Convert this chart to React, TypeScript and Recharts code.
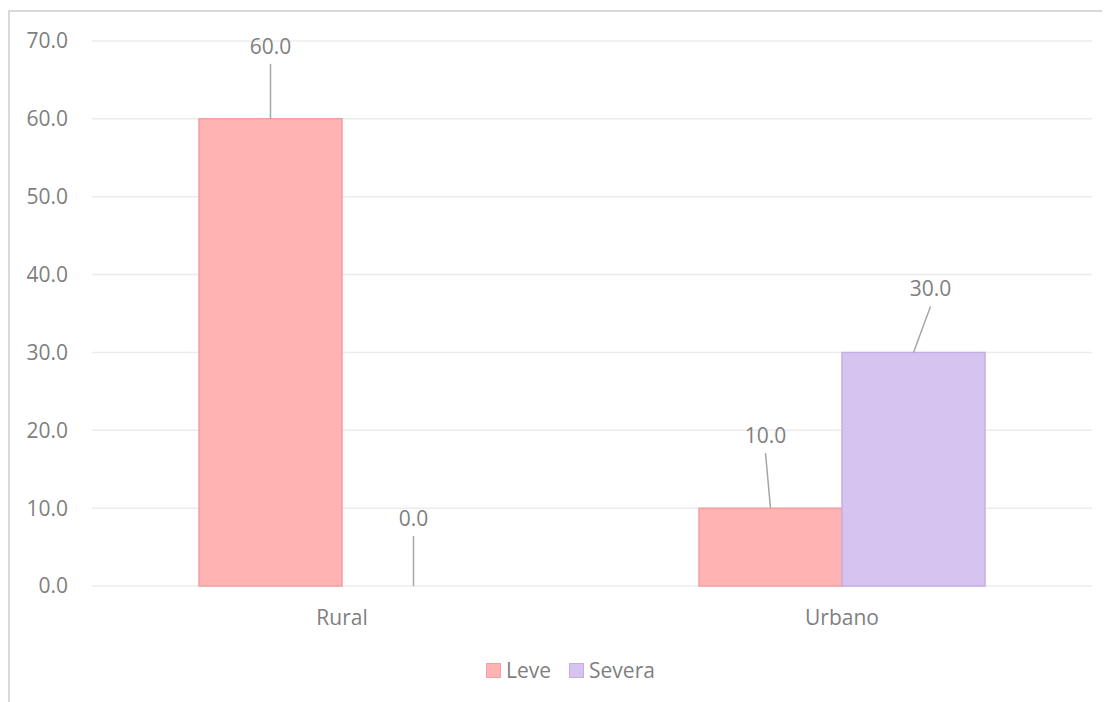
import React from "react";
import { Bar, BarChart, CartesianGrid, LabelList, Rectangle, XAxis, YAxis } from "recharts";

const categories = ["Rural", "Urbano"];
const leve = [60.0, 10.0];
const severa = [0.0, 30.0];
const yTicks = [0, 10, 20, 30, 40, 50, 60, 70];

const data = categories.map((zona, i) => ({ zona, leve: leve[i], severa: severa[i] }));

const FONT = "'Open Sans', 'Segoe UI', sans-serif";
const TEXT = "#7f7f7f";
const FS = 21;
const LEVE_FILL = "#ffb3b3";
const LEVE_STROKE = "#f2a0a0";
const SEVERA_FILL = "#d6c3ef";
const SEVERA_STROKE = "#c5aee3";

// leader-line tweaks per bar (dx at the label end, line length)
const leaders: Record<string, { dx: number; len: number }[]> = {
  leve: [
    { dx: 0, len: 55 },
    { dx: -5, len: 55 },
  ],
  severa: [
    { dx: 0, len: 50 },
    { dx: 17, len: 46 },
  ],
};

const makeLabel = (key: string) => (props: any) => {
  const { x, y, width, height, value, index } = props;
  const cx = Number(x) + Number(width) / 2;
  // zero bars get a 1px min size; anchor their label on the baseline
  const top = Number(value) === 0 ? Number(y) + Number(height) : Number(y);
  const { dx, len } = leaders[key][index];
  const ex = cx + dx;
  const ey = top - len;
  return (
    <g>
      <line x1={cx} y1={top} x2={ex} y2={ey} stroke="#a6a6a6" strokeWidth={1.5} />
      <text x={ex} y={ey - 10} textAnchor="middle" fill={TEXT} fontSize={FS} fontFamily={FONT}>
        {Number(value).toFixed(1)}
      </text>
    </g>
  );
};

// hide the placeholder rect of zero-valued bars
const makeShape = (key: string) => (props: any) =>
  props.payload && props.payload[key] === 0 ? <g /> : <Rectangle {...props} />;

function LegendBox({ fill, stroke, label }: { fill: string; stroke: string; label: string }) {
  return (
    <span style={{ display: "inline-flex", alignItems: "center", marginRight: 18 }}>
      <span
        style={{
          width: 13,
          height: 13,
          background: fill,
          border: `1px solid ${stroke}`,
          marginRight: 5,
        }}
      />
      <span>{label}</span>
    </span>
  );
}

export default function App() {
  return (
    <div
      style={{
        position: "relative",
        marginTop: 2,
        width: 1120,
        height: 720,
        borderTop: "2px solid #d9d9d9",
        borderLeft: "2px solid #d9d9d9",
        fontFamily: FONT,
        background: "#fff",
      }}
    >
      <BarChart
        width={1101}
        height={690}
        data={data}
        barGap={0}
        barSize={143}
        margin={{ top: 29, right: 19, left: 0, bottom: 86 }}
      >
        <CartesianGrid vertical={false} stroke="#ececec" strokeWidth={1.5} />
        <XAxis
          dataKey="zona"
          axisLine={false}
          tickLine={false}
          tickMargin={18}
          tick={{ fill: TEXT, fontSize: FS, fontFamily: FONT }}
        />
        <YAxis
          domain={[0, 70]}
          ticks={yTicks}
          width={82}
          axisLine={false}
          tickLine={false}
          tickMargin={18}
          tickFormatter={(v: number) => v.toFixed(1)}
          tick={{ fill: TEXT, fontSize: FS, fontFamily: FONT }}
        />
        <Bar
          dataKey="leve"
          fill={LEVE_FILL}
          stroke={LEVE_STROKE}
          strokeWidth={1.5}
          minPointSize={1}
          shape={makeShape("leve")}
          isAnimationActive={false}
        >
          <LabelList dataKey="leve" content={makeLabel("leve")} />
        </Bar>
        <Bar
          dataKey="severa"
          fill={SEVERA_FILL}
          stroke={SEVERA_STROKE}
          strokeWidth={1.5}
          minPointSize={1}
          shape={makeShape("severa")}
          isAnimationActive={false}
        >
          <LabelList dataKey="severa" content={makeLabel("severa")} />
        </Bar>
      </BarChart>
      <div
        style={{
          position: "absolute",
          left: 476,
          top: 645,
          display: "flex",
          color: TEXT,
          fontSize: FS,
          lineHeight: "26px",
        }}
      >
        <LegendBox fill={LEVE_FILL} stroke={LEVE_STROKE} label="Leve" />
        <LegendBox fill={SEVERA_FILL} stroke={SEVERA_STROKE} label="Severa" />
      </div>
    </div>
  );
}
